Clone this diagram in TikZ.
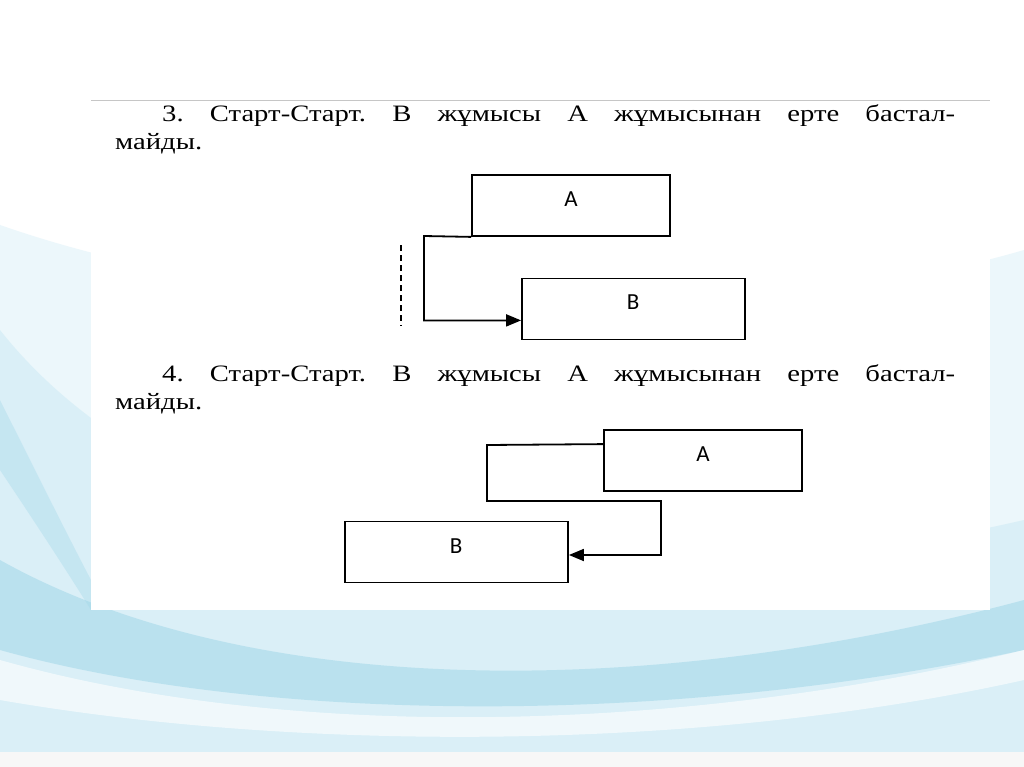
\documentclass[tikz,border=0pt]{standalone}
\usepackage{fontspec}
\setmainfont{Liberation Serif}[FakeStretch=1.22]
\newfontfamily\boxfont{Carlito}
\usetikzlibrary{arrows.meta,calc}
\definecolor{wave1}{RGB}{214,238,246}
\definecolor{wave2}{RGB}{160,214,232}
\definecolor{wave3}{RGB}{236,247,251}
\frenchspacing
\begin{document}
\begin{tikzpicture}[x=1pt,y=-1pt,
  box/.style={draw=black,line width=1.8pt,minimum width=#1,minimum height=61pt,inner sep=0pt},
  lbl/.style={font=\boxfont\fontsize{23}{23}\selectfont,inner sep=0pt},
  para/.style={font=\fontsize{23.5}{28}\selectfont,inner sep=0pt,anchor=base west},
  conn/.style={line width=1.8pt,line join=miter},
  tip/.style={-{Triangle[length=15pt,width=12pt]}}]
\useasboundingbox (0,0) rectangle (1024,767);
% background
\fill[white] (0,0) rectangle (1024,767);
\fill[wave3] (0,225) .. controls (300,330) and (750,330) .. (1024,250) -- (1024,752) -- (0,752) -- cycle;
\fill[wave1,opacity=0.8] (0,330) .. controls (150,520) and (500,640) .. (1024,520) -- (1024,752) -- (0,752) -- cycle;
\fill[wave2,opacity=0.55] (0,560) .. controls (250,700) and (650,700) .. (1024,600) -- (1024,650) .. controls (650,730) and (250,720) .. (0,650) -- cycle;
\fill[white,opacity=0.6] (0,660) .. controls (300,745) and (700,730) .. (1024,650) -- (1024,680) .. controls (700,752) and (300,752) .. (0,700) -- cycle;
\fill[wave2,opacity=0.35] (0,400) .. controls (40,480) and (70,540) .. (91,580) -- (91,610) .. controls (60,560) and (20,500) .. (0,470) -- cycle;
\fill[gray!6] (0,752) rectangle (1024,767);
% content area
\fill[white] (91,100) rectangle (990,610);
\draw[gray!45,line width=0.8pt] (91,100) -- (990,100);
% paragraph 3
\node[para] (t1a) at (162,122) {\makebox[793pt][s]{3. Старт-Старт. В жұмысы А жұмысынан ерте бастал-}};
\node[para] (t1b) at (115,150) {майды.};
% diagram 3
\node[box=198pt] (A1) at (571,205.5) {};
\node[lbl] (A1t) at (571,199) {A};
\node[box=223pt] (B1) at (633.5,309) {};
\node[lbl] (B1t) at (633,302) {B};
\coordinate (k1) at (424,236);
\draw[conn,tip] (A1.south west) -- (k1) |- ($(B1.south west)+(0,-20)$);
\coordinate (d1) at (401,245);
\coordinate (d2) at (401,326);
\draw[line width=1.8pt,dash pattern=on 6pt off 4pt] (d1) -- (d2);
% paragraph 4
\node[para] (t2a) at (162,381) {\makebox[793pt][s]{4. Старт-Старт. В жұмысы А жұмысынан ерте бастал-}};
\node[para] (t2b) at (115,409) {майды.};
% diagram 4
\node[box=198pt] (A2) at (703,460.5) {};
\node[lbl] (A2t) at (703,454) {A};
\node[box=223pt] (B2) at (456.5,552) {};
\node[lbl] (B2t) at (456,546) {B};
\coordinate (k2) at (487,445);
\coordinate (k3) at (487,501);
\coordinate (k4) at (661,501);
\coordinate (k5) at (661,555);
\draw[conn,tip] ($(A2.north west)+(0,15)$) -- (k2) -- (k3) -- (k4) -- (k5) -- ($(B2.east)+(0,3)$);
\end{tikzpicture}
\end{document}
